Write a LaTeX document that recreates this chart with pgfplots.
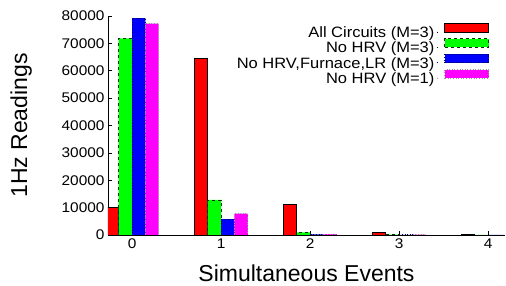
\documentclass[border=0pt]{standalone}
\usepackage{pgfplots}
\pgfplotsset{compat=1.18}
\usepackage{fontspec}
\setmainfont{Liberation Sans}
\newfontfamily\widefont{Liberation Sans}[FakeStretch=1.1]
\definecolor{gpred}{RGB}{255,0,0}
\definecolor{gpgreen}{RGB}{0,255,0}
\definecolor{gpblue}{RGB}{0,0,255}
\definecolor{gpmag}{RGB}{255,0,255}
\begin{document}
\begin{tikzpicture}
\begin{axis}[
  at={(0,0)}, anchor=south west,
  scale only axis,
  width=397pt, height=219pt,
  ybar=0pt, bar width=0.15,
  xmin=-0.27, xmax=4.19,
  ymin=0, ymax=80000,
  xtick={0,1,2,3,4},
  ytick={0,10000,20000,30000,40000,50000,60000,70000,80000},
  scaled y ticks=false,
  /pgf/number format/assume math mode=true,
  yticklabel style={/pgf/number format/1000 sep={}},
  axis x line*=bottom, axis y line*=left,
  tick align=inside, major tick length=4pt,
  tick style={black, line width=0.6pt},
  axis line style={line width=0.8pt},
  ticklabel style={font=\widefont\fontsize{14}{16}\selectfont},
  xlabel={Simultaneous Events}, ylabel={1Hz Readings},
  label style={font=\fontsize{23}{26}\selectfont},
  xlabel style={at={(axis description cs:0.5,-0.2146)}, anchor=base},
  ylabel style={at={(axis description cs:-0.204,0.5)}, anchor=base},
  legend plot pos=right,
  legend cell align=right,
  legend style={draw=none, fill=none, inner sep=0pt, outer sep=0pt,
    at={(axis description cs:0.9597,0.968)}, anchor=north east,
    font=\widefont\fontsize{15}{16}\selectfont, row sep=-2.5pt},
  legend image code/.code={\path (0pt,1pt) -- (1pt,1pt); \draw[#1] (8pt,1pt) rectangle (52pt,9.5pt);},
]
\addplot[fill=gpred, draw=black, line width=0.6pt] coordinates {(0,10000) (1,64500) (2,11100) (3,900) (4,100)};
\addplot[fill=gpgreen, draw=black!80!green, dashed, line width=0.6pt] coordinates {(0,71800) (1,12800) (2,1000) (3,150) (4,50)};
\addplot[fill=gpblue, draw=black!70!blue, dotted, line width=0.6pt] coordinates {(0,79200) (1,5800) (2,250) (3,80) (4,40)};
\addplot[fill=gpmag, draw=black!40, dotted, line width=0.6pt] coordinates {(0,77200) (1,7800) (2,300) (3,100) (4,40)};
\legend{All Circuits (M=3), No HRV (M=3), {No HRV,Furnace,LR (M=3)}, No HRV (M=1)}
\end{axis}
\pgfresetboundingbox
\useasboundingbox (-108pt,-51pt) rectangle (398pt,235pt);
\end{tikzpicture}
\end{document}
